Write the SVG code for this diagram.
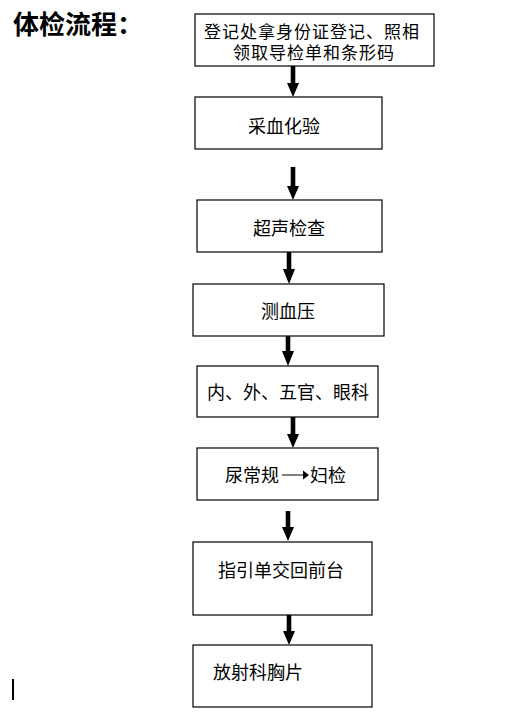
<svg xmlns="http://www.w3.org/2000/svg" width="531" height="718" viewBox="0 0 531 718">
<style>
.box{fill:#fff;stroke:#000;stroke-width:1.2}
.t{font-family:"Noto Sans CJK SC","Liberation Sans",sans-serif;font-size:18px;fill:#000}
.t2{font-family:"Noto Sans CJK SC","Liberation Sans",sans-serif;font-size:17px;letter-spacing:1px;fill:#000}
.title{font-family:"Noto Sans CJK SC","Liberation Sans",sans-serif;font-size:26px;font-weight:bold;fill:#000}
.arr{fill:#000}
</style>
<rect width="531" height="718" fill="#fff"/>
<text class="title" x="13" y="34">体检流程：</text>
<line x1="13" y1="679" x2="13" y2="700" stroke="#000" stroke-width="2"/>

<g id="connectors">
<path class="arr" d="M290.7,66 L295.3,66 L295.3,83 L299,83 L293,97 L287,83 L290.7,83 Z"/>
<path class="arr" d="M290.7,167 L295.3,167 L295.3,186 L299,186 L293,200 L287,186 L290.7,186 Z"/>
<path class="arr" d="M286.7,252 L291.3,252 L291.3,269 L295,269 L289,284 L283,269 L286.7,269 Z"/>
<path class="arr" d="M285.7,336 L290.3,336 L290.3,351 L294,351 L288,366 L282,351 L285.7,351 Z"/>
<path class="arr" d="M290.7,417 L295.3,417 L295.3,434 L299,434 L293,448 L287,434 L290.7,434 Z"/>
<path class="arr" d="M285.7,511 L290.3,511 L290.3,527 L294,527 L288,541 L282,527 L285.7,527 Z"/>
<path class="arr" d="M286.7,615 L291.3,615 L291.3,631 L295,631 L289,645 L283,631 L286.7,631 Z"/>
</g>

<g id="n1">
<rect class="box" x="195" y="14" width="239" height="52"/>
<text class="t2" x="204" y="37.5">登记处拿身份证登记、照相</text>
<text class="t2" x="233" y="58.5">领取导检单和条形码</text>
</g>
<g id="n2">
<rect class="box" x="195" y="97" width="187" height="52"/>
<text class="t" x="248" y="133">采血化验</text>
</g>
<g id="n3">
<rect class="box" x="197" y="200" width="185" height="52"/>
<text class="t" x="253" y="235">超声检查</text>
</g>
<g id="n4">
<rect class="box" x="193" y="284" width="191" height="52"/>
<text class="t" x="261" y="317.5">测血压</text>
</g>
<g id="n5">
<rect class="box" x="197" y="366" width="181" height="51"/>
<text class="t" x="207" y="398.5">内、外、五官、眼科</text>
</g>
<g id="n6">
<rect class="box" x="197" y="448" width="181" height="52"/>
<text class="t" x="225" y="482">尿常规</text>
<line x1="282" y1="475" x2="304" y2="475" stroke="#808080" stroke-width="2"/>
<path d="M303,470.5 L309,475 L303,479.5 Z" fill="#000"/>
<text class="t" x="310" y="482">妇检</text>
</g>
<g id="n7">
<rect class="box" x="193" y="542" width="179" height="73"/>
<text class="t" x="218" y="577">指引单交回前台</text>
</g>
<g id="n8">
<rect class="box" x="193" y="645" width="179" height="62"/>
<text class="t" x="213" y="678.5">放射科胸片</text>
</g>
</svg>
